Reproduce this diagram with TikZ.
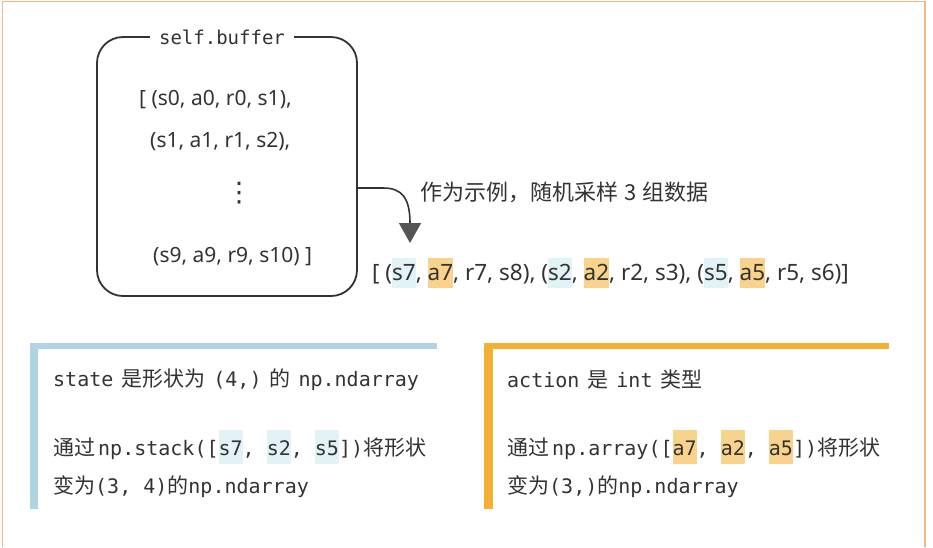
\documentclass[tikz,border=0pt]{standalone}
\usepackage{fontspec}
\setmainfont{Noto Sans}
\setmonofont{DejaVu Sans Mono}
\newfontfamily\cjk{Noto Sans CJK SC}
\newfontfamily\dejavu{DejaVu Sans}
\usetikzlibrary{arrows.meta}
\definecolor{ink}{HTML}{333333}
\definecolor{peach}{HTML}{F2B98A}
\definecolor{barblue}{HTML}{AED6E2}
\definecolor{barorange}{HTML}{F2B035}
\definecolor{hlblue}{HTML}{E2F3F7}
\definecolor{hlorange}{HTML}{F9D38C}
\definecolor{arrowgray}{HTML}{555555}
\newcommand\hldp{0.3em}
\newcommand\hlht{1.3em}
\newcommand\hlbox[2]{\begingroup\setbox0\hbox{#2}\rlap{\color{#1}\rule[-\hldp]{\wd0}{\hlht}}\box0\endgroup}
\newcommand\cj[1]{{\cjk\fontsize{21}{24}\selectfont #1}}
\tikzset{
  txt/.style={anchor=west, inner sep=0pt, text=ink, font=\ttfamily\fontsize{20}{24}\selectfont},
  bigtxt/.style={anchor=west, inner sep=0pt, text=ink, font=\fontsize{21}{24}\selectfont},
}
\begin{document}
\begin{tikzpicture}[x=1pt,y=-1pt]
\useasboundingbox (0,0) rectangle (933,547);
\fill[white] (0,0) rectangle (933,547);
% outer frame
\draw[peach, line width=1.5pt] (2.5,547) -- (2.5,1.5) -- (925,1.5) -- (925,547);
% buffer box
\node[draw=ink, line width=1.8pt, rounded corners=26pt, minimum width=260pt, minimum height=259pt, inner sep=0pt] (buf) at (227,166.5) {};
\node[fill=white, inner xsep=9pt, inner ysep=2pt, text=ink, font=\ttfamily\fontsize{19}{22}\selectfont] (title) at (222,37) {self.buffer};
\node[bigtxt] (b1) at (139,100) {[ (s0, a0, r0, s1),};
\node[bigtxt] (b2) at (150,142) {(s1, a1, r1, s2),};
\node[anchor=center, inner sep=0pt, text=ink, font=\dejavu\fontsize{27}{30}\selectfont] (dots) at (239,193) {⋮};
\node[bigtxt] (b3) at (153,257) {(s9, a9, r9, s10) ]};
% arrow
\coordinate (out) at (buf.east |- 0,188);
\coordinate (tip) at (410,243);
\draw[ink, line width=1.6pt, -{Triangle[length=20pt,width=22pt,color=arrowgray]}] (out) -- (383,188) .. controls (402,188) and (410,198) .. (tip);
\node[bigtxt, font=\cjk\fontsize{22}{25}\selectfont] (note) at (420,192) {作为示例，随机采样\hspace{6pt}3\hspace{6pt}组数据};
\node[bigtxt, font=\fontsize{22.5}{26}\selectfont] (sample) at (372,273) {[ (\hlbox{hlblue}{s7}, \hlbox{hlorange}{a7}, r7, s8), (\hlbox{hlblue}{s2}, \hlbox{hlorange}{a2}, r2, s3), (\hlbox{hlblue}{s5}, \hlbox{hlorange}{a5}, r5, s6)]};
% left panel
\fill[barblue] (30,343) rectangle (437,349);
\fill[barblue] (30,343) rectangle (38,509);
\renewcommand\hldp{0.42em}
\renewcommand\hlht{1.7em}
\node[txt] (l1) at (53,380) {state\hspace{8pt}\cj{是形状为}\hspace{8pt}(4,)\hspace{8pt}\cj{的}\hspace{8pt}np.ndarray};
\node[txt] (l2) at (53,447) {\cj{通过}\hspace{3pt}np.stack([\hlbox{hlblue}{s7}, \hlbox{hlblue}{s2}, \hlbox{hlblue}{s5}])\cj{将形状}};
\node[txt] (l3) at (53,487) {\cj{变为}(3, 4)\cj{的}np.ndarray};
% right panel
\fill[barorange] (484,343) rectangle (889,349);
\fill[barorange] (484,343) rectangle (493,509);
\node[txt] (r1) at (507,380) {action\hspace{8pt}\cj{是}\hspace{8pt}int\hspace{8pt}\cj{类型}};
\node[txt] (r2) at (507,447) {\cj{通过}\hspace{3pt}np.array([\hlbox{hlorange}{a7}, \hlbox{hlorange}{a2}, \hlbox{hlorange}{a5}])\cj{将形状}};
\node[txt] (r3) at (507,487) {\cj{变为}(3,)\cj{的}np.ndarray};
\end{tikzpicture}
\end{document}
